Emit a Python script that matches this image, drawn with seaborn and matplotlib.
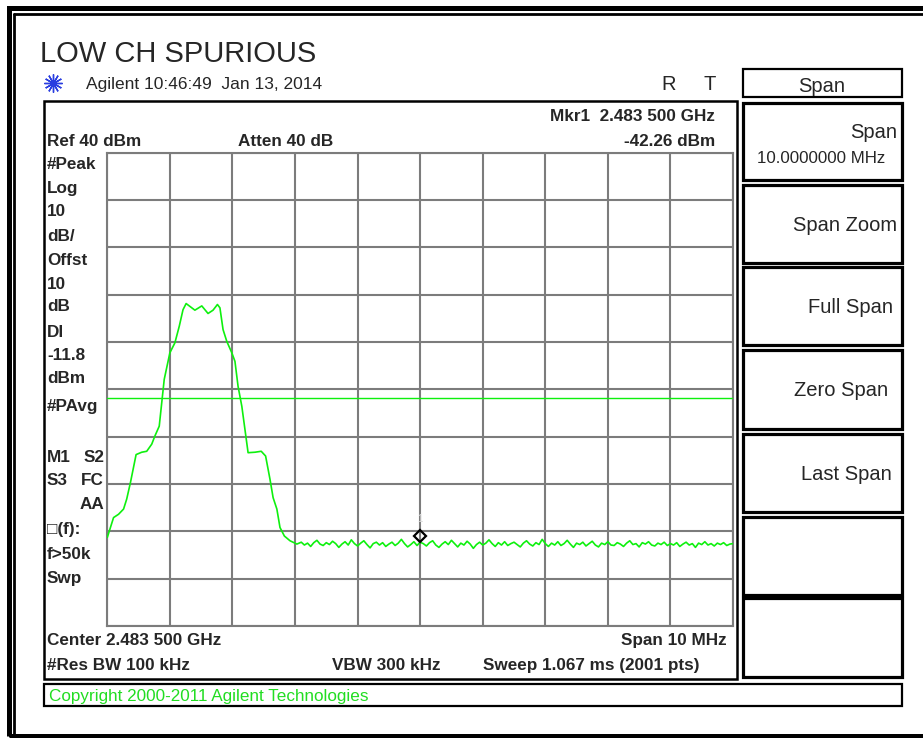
'''
Rebuild the LOW CH SPURIOUS spectrum analyser screen (Agilent, 10 MHz span)
as a seaborn line plot with the instrument annotations drawn around it.
'''

import pandas as pd
import seaborn as sns
import matplotlib.pyplot as plt
from matplotlib.patches import Rectangle
from matplotlib.lines import Line2D
from matplotlib.ticker import MultipleLocator, NullFormatter
from matplotlib.transforms import offset_copy

W, H = 923, 738

START_MHZ = 2478.5
STOP_MHZ = 2488.5
REF_DBM = 40
BOTTOM_DBM = -60
DISPLAY_LINE = -11.8
MARKER_MHZ = 2483.5
MARKER_DBM = -42.26

# channel shape
SIGNAL_MHZ = [2478.50, 2478.54, 2478.60, 2478.68, 2478.76, 2478.81, 2478.87,
              2478.96, 2479.05, 2479.13, 2479.21, 2479.26, 2479.33, 2479.37,
              2479.41, 2479.50, 2479.58, 2479.65, 2479.71, 2479.76, 2479.82,
              2479.90, 2480.01, 2480.11, 2480.19, 2480.26, 2480.30, 2480.35,
              2480.41, 2480.49, 2480.54, 2480.59, 2480.65, 2480.70, 2480.75,
              2480.86, 2480.96, 2481.03, 2481.10, 2481.15, 2481.21, 2481.26,
              2481.33, 2481.42, 2481.53]
SIGNAL_DBM = [-41.3, -39.6, -37.1, -36.4, -35.3, -33.2, -29.7,
              -23.8, -23.3, -23.1, -21.6, -19.9, -17.8, -12.9,
              -7.9, -2.3, -0.2, 3.3, 6.8, 8.1, 7.5,
              6.7, 7.6, 6.0, 6.7, 7.9, 7.2, 2.6,
              0.1, -2.3, -4.1, -9.4, -13.6, -18.5, -23.4,
              -23.3, -23.1, -24.1, -29.0, -32.9, -35.3, -39.2,
              -41.0, -42.0, -42.7]

# noise floor after the channel
NOISE_MHZ = [2481.60, 2481.65, 2481.70, 2481.75, 2481.80, 2481.85, 2481.90, 2481.95, 2482.00, 2482.05,
             2482.10, 2482.15, 2482.20, 2482.25, 2482.30, 2482.35, 2482.40, 2482.45, 2482.50, 2482.55,
             2482.60, 2482.65, 2482.70, 2482.75, 2482.80, 2482.85, 2482.90, 2482.95, 2483.00, 2483.05,
             2483.10, 2483.15, 2483.20, 2483.25, 2483.30, 2483.35, 2483.40, 2483.45, 2483.50, 2483.55,
             2483.60, 2483.65, 2483.70, 2483.75, 2483.80, 2483.85, 2483.90, 2483.95, 2484.00, 2484.05,
             2484.10, 2484.15, 2484.20, 2484.25, 2484.30, 2484.35, 2484.40, 2484.45, 2484.50, 2484.55,
             2484.60, 2484.65, 2484.70, 2484.75, 2484.80, 2484.85, 2484.90, 2484.95, 2485.00, 2485.05,
             2485.10, 2485.15, 2485.20, 2485.25, 2485.30, 2485.35, 2485.40, 2485.45, 2485.50, 2485.55,
             2485.60, 2485.65, 2485.70, 2485.75, 2485.80, 2485.85, 2485.90, 2485.95, 2486.00, 2486.05,
             2486.10, 2486.15, 2486.20, 2486.25, 2486.30, 2486.35, 2486.40, 2486.45, 2486.50, 2486.55,
             2486.60, 2486.65, 2486.70, 2486.75, 2486.80, 2486.85, 2486.90, 2486.95, 2487.00, 2487.05,
             2487.10, 2487.15, 2487.20, 2487.25, 2487.30, 2487.35, 2487.40, 2487.45, 2487.50, 2487.55,
             2487.60, 2487.65, 2487.70, 2487.75, 2487.80, 2487.85, 2487.90, 2487.95, 2488.00, 2488.05,
             2488.10, 2488.15, 2488.20, 2488.25, 2488.30, 2488.35, 2488.40, 2488.45, 2488.50, 2488.55]
NOISE_DBM = [-42.3, -42.9, -42.5, -43.2, -42.4, -41.9, -42.7, -43.0, -42.4, -42.8,
             -42.1, -42.6, -43.4, -42.7, -42.2, -42.9, -41.8, -42.6, -43.1, -42.5,
             -42.0, -42.8, -43.5, -42.6, -42.3, -42.9, -42.4, -43.2, -42.7, -42.3,
             -43.0, -42.5, -41.7, -42.6, -43.3, -42.8, -42.2, -43.0, -42.3, -42.6,
             -43.1, -42.4, -42.0, -42.9, -43.4, -42.7, -42.2, -42.8, -41.9, -42.6,
             -43.3, -42.5, -42.9, -42.1, -42.7, -43.6, -42.8, -42.3, -42.9, -42.5,
             -41.8, -42.6, -43.2, -42.4, -42.9, -42.2, -43.0, -42.6, -42.3, -42.8,
             -43.3, -42.5, -42.0, -42.7, -43.1, -42.4, -42.8, -41.7, -42.6, -43.2,
             -42.5, -42.9, -42.2, -43.0, -42.6, -41.9, -42.7, -43.4, -42.5, -42.8,
             -42.3, -43.1, -42.6, -42.1, -42.9, -43.3, -42.5, -42.8, -42.2, -42.9,
             -43.0, -42.4, -42.7, -43.2, -42.5, -42.0, -42.8, -42.6, -43.3, -42.4,
             -42.7, -42.2, -42.9, -43.1, -42.5, -42.8, -42.3, -43.0, -42.6, -42.9,
             -42.4, -43.2, -42.7, -42.3, -42.9, -42.6, -43.4, -42.5, -42.8, -42.2,
             -42.9, -42.6, -43.1, -42.5, -42.8, -42.4, -43.0, -42.7, -42.6, -42.8]

LEFT_LABELS = ['#Peak', 'Log', '10', 'dB/', 'Offst', '10', 'dB', 'Dl', '-11.8',
               'dBm', '#PAvg', 'M1', 'S3', '', '\u25a1(f):', 'f>50k', 'Swp']
LEFT_RIGHT_LABELS = ['', '', '', '', '', '', '', '', '',
                     '', '', 'S2', 'FC', 'AA', '', '', '']
SOFTKEYS = ['Span', 'Span Zoom', 'Full Span', 'Zero Span', 'Last Span', '', '']

GREEN = '#0ef00e'
GRID = '#7c7c7c'
FONTS = ['Liberation Sans', 'DejaVu Sans']


def fx(x):
    return x / W


def fy(y):
    return 1 - y / H


def box(fig, x0, y0, x1, y1, lw, color='black'):
    fig.add_artist(Rectangle((fx(x0), fy(y1)), fx(x1) - fx(x0), fy(y0) - fy(y1),
                             transform=fig.transFigure, fill=False, lw=lw,
                             ec=color))


def txt(fig, x, y, s, **kw):
    kw.setdefault('family', FONTS)
    fig.text(fx(x), fy(y), s, va='baseline', **kw)


def draw_trace(fig):
    ax = fig.add_axes([fx(107.3), fy(626), fx(733) - fx(107.3), fy(152.5) - fy(626)])
    trace = pd.DataFrame({'MHz': SIGNAL_MHZ + NOISE_MHZ,
                          'dBm': SIGNAL_DBM + NOISE_DBM})
    sns.lineplot(data=trace, x='MHz', y='dBm', ax=ax, color=GREEN, lw=1.2,
                 estimator=None, sort=False, zorder=3)
    ax.axhline(DISPLAY_LINE, color=GREEN, lw=1.0, zorder=3)

    mk = offset_copy(ax.transData, fig=fig, y=6, units='dots')
    ax.plot([MARKER_MHZ], [MARKER_DBM], marker='D', ms=6, mfc='none',
            mec='black', mew=1.6, transform=mk, zorder=4)
    ax.text(MARKER_MHZ, MARKER_DBM, '1', transform=offset_copy(
        ax.transData, fig=fig, y=20, units='dots'), ha='center',
        fontsize=7, color='#d8d8d8')

    ax.set_xlim(START_MHZ, STOP_MHZ)
    ax.set_ylim(BOTTOM_DBM, REF_DBM)
    ax.xaxis.set_major_locator(MultipleLocator(1, offset=0.5))
    ax.yaxis.set_major_locator(MultipleLocator(10))
    ax.xaxis.set_major_formatter(NullFormatter())
    ax.yaxis.set_major_formatter(NullFormatter())
    ax.tick_params(length=0)
    ax.set_xlabel('')
    ax.set_ylabel('')
    ax.set_axisbelow(True)
    ax.grid(True, color=GRID, lw=1.5)
    for sp in ax.spines.values():
        sp.set_color(GRID)
        sp.set_linewidth(1.5)
    return ax


def make_screen():
    sns.set_style('white')
    plt.rcParams['font.family'] = FONTS

    fig = plt.figure(figsize=(W / 100, H / 100), dpi=100)

    # outer frame
    box(fig, 9, 7.5, 935, 735.5, 3.6)
    fig.add_artist(Line2D([fx(14.5), fx(14.5)], [fy(13.8), fy(745)],
                          transform=fig.transFigure, color='black', lw=2.0))
    fig.add_artist(Line2D([fx(14.5), fx(930)], [fy(13.8), fy(13.8)],
                          transform=fig.transFigure, color='black', lw=2.0))

    txt(fig, 40, 62, 'LOW CH SPURIOUS', fontsize=21)
    fig.add_artist(Line2D([fx(53)], [fy(83)], marker=(12, 2, 0), ms=13,
                          mew=1.0, color='#2a3ee0', transform=fig.transFigure))
    txt(fig, 86, 89, 'Agilent 10:46:49  Jan 13, 2014', fontsize=12.5)
    txt(fig, 661, 90, 'R', fontsize=14.5)
    txt(fig, 703, 90, 'T', fontsize=14.5)

    # instrument panel
    box(fig, 43.5, 101, 737, 679, 1.8)
    bold = dict(fontsize=12.3, weight='bold')
    txt(fig, 715, 121, 'Mkr1  2.483 500 GHz', ha='right', **bold)
    txt(fig, 715, 146, '-42.26 dBm', ha='right', **bold)
    txt(fig, 47, 146, 'Ref 40 dBm', **bold)
    txt(fig, 238, 146, 'Atten 40 dB', **bold)
    base_y = [169, 193, 216, 241, 265, 289, 311, 337, 360,
              383, 411, 462, 485, 509, 534, 559, 583]
    for lab, rlab, y in zip(LEFT_LABELS, LEFT_RIGHT_LABELS, base_y):
        if lab:
            txt(fig, 47, y, lab, **bold)
        if rlab:
            txt(fig, 104, y, rlab, ha='right', **bold)
    txt(fig, 47, 645, 'Center 2.483 500 GHz', **bold)
    txt(fig, 727, 645, 'Span 10 MHz', ha='right', **bold)
    txt(fig, 47, 670, '#Res BW 100 kHz', **bold)
    txt(fig, 332, 670, 'VBW 300 kHz', **bold)
    txt(fig, 483, 670, 'Sweep 1.067 ms (2001 pts)', **bold)

    draw_trace(fig)

    # copyright strip
    box(fig, 43.5, 684, 902, 706, 1.6)
    txt(fig, 49, 701, 'Copyright 2000-2011 Agilent Technologies',
        fontsize=12.3, color='#22dd22')

    # softkeys
    box(fig, 743, 69.5, 901.5, 96.5, 1.6)
    txt(fig, 822, 92, 'Span', ha='center', fontsize=14.5)
    keys_y = [(103, 180), (185, 263), (267, 345), (350, 429),
              (434, 512), (517, 595), (598, 677)]
    key_right = [897, 897, 893, 888, 892, 895, 895]
    for lab, (y0, y1), xr in zip(SOFTKEYS, keys_y, key_right):
        box(fig, 743, y0, 901.5, y1, 2.3)
        if lab == 'Span':
            txt(fig, xr, 138, lab, ha='right', fontsize=14.5)
            txt(fig, 885, 163, '10.0000000 MHz', ha='right', fontsize=12.2)
        elif lab:
            txt(fig, xr, (y0 + y1) / 2 + 7, lab, ha='right', fontsize=14.5)

    fig.savefig('out.png', dpi=100)
    plt.close(fig)


if __name__ == "__main__":
    make_screen()
